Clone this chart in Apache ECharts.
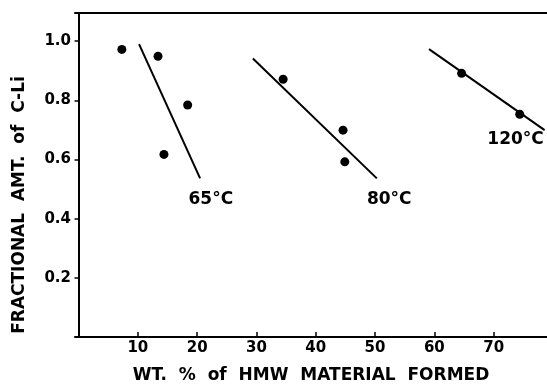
<!DOCTYPE html>
<html><head><meta charset="utf-8">
<script src="https://cdn.jsdelivr.net/npm/echarts@6/dist/echarts.min.js"></script>
<style>html,body{margin:0;padding:0;background:#fff}#c{width:547px;height:389px}</style>
</head><body><div id="c"></div>
<script>
// Data points: [wt% HMW material, fractional amount of C-Li]
const pts65 = [[7.3, 0.972], [13.4, 0.949], [18.4, 0.784], [14.4, 0.617]];
const pts80 = [[34.5, 0.871], [44.6, 0.699], [44.9, 0.592]];
const pts120 = [[64.6, 0.891], [74.4, 0.753]];
// Hand-drawn trend lines (endpoints)
const line65 = [[10.2, 0.99], [20.5, 0.536]];
const line80 = [[29.4, 0.941], [50.3, 0.536]];
const line120 = [[59.1, 0.973], [78.6, 0.699]];
// Curve labels
const curveLabels = [[22.3, 0.463, '65°C'], [52.4, 0.463, '80°C'], [73.7, 0.666, '120°C']];
const xTicks = [10, 20, 30, 40, 50, 60, 70];
const yTicks = [0.2, 0.4, 0.6, 0.8, 1.0];

const FONT = 'DejaVu Sans';
const chart = echarts.init(document.getElementById('c'), null, {renderer: 'canvas'});
const lineSeries = (d) => ({type: 'line', data: d, symbol: 'none', lineStyle: {color: '#000', width: 2}, silent: true, z: 2});
const ptSeries = (d) => ({type: 'scatter', data: d, symbol: 'circle', symbolSize: 9, itemStyle: {color: '#000', opacity: 1}, z: 3});
chart.setOption({
  animation: false,
  backgroundColor: '#fff',
  grid: {left: 75, right: 0, top: 13, bottom: 52},
  xAxis: [{
    type: 'value', min: -0.6, max: 79,
    axisLine: {show: true, lineStyle: {color: '#000', width: 2}},
    axisTick: {show: true, inside: true, length: 5, lineStyle: {color: '#000', width: 1.5}, customValues: xTicks},
    axisLabel: {color: '#000', fontFamily: FONT, fontWeight: 'bold', fontSize: 15, margin: 4, customValues: xTicks},
    splitLine: {show: false},
    name: 'WT.  %  of  HMW  MATERIAL  FORMED', nameLocation: 'middle', nameGap: 30,
    nameTextStyle: {color: '#000', fontFamily: FONT, fontWeight: 'bold', fontSize: 17}
  }, {
    type: 'value', position: 'top', min: -0.6, max: 79,
    axisLine: {show: true, lineStyle: {color: '#000', width: 2}},
    axisTick: {show: false}, axisLabel: {show: false}, splitLine: {show: false}
  }],
  yAxis: {
    type: 'value', min: 0, max: 1.095,
    axisLine: {show: true, lineStyle: {color: '#000', width: 2}},
    axisTick: {show: true, length: 4, lineStyle: {color: '#000', width: 1.5}, customValues: yTicks},
    axisLabel: {color: '#000', fontFamily: FONT, fontWeight: 'bold', fontSize: 15, margin: 4, customValues: yTicks,
      formatter: v => v.toFixed(1)},
    splitLine: {show: false}
  },
  graphic: [{
    type: 'text', x: 20, y: 205, rotation: Math.PI / 2,
    style: {text: 'FRACTIONAL  AMT.  of  C-Li', fill: '#000', font: 'bold 17px "DejaVu Sans"', align: 'center', verticalAlign: 'middle'}
  }],
  series: [
    lineSeries(line65), lineSeries(line80), lineSeries(line120),
    ptSeries(pts65), ptSeries(pts80), ptSeries(pts120),
    {type: 'scatter', symbolSize: 0, silent: true, itemStyle: {opacity: 1},
     data: curveLabels.map(d => ({value: [d[0], d[1]], name: d[2]})),
     label: {show: true, position: 'inside', formatter: p => p.name, color: '#000', fontFamily: FONT, fontWeight: 'bold', fontSize: 17}}
  ]
});
</script></body></html>
